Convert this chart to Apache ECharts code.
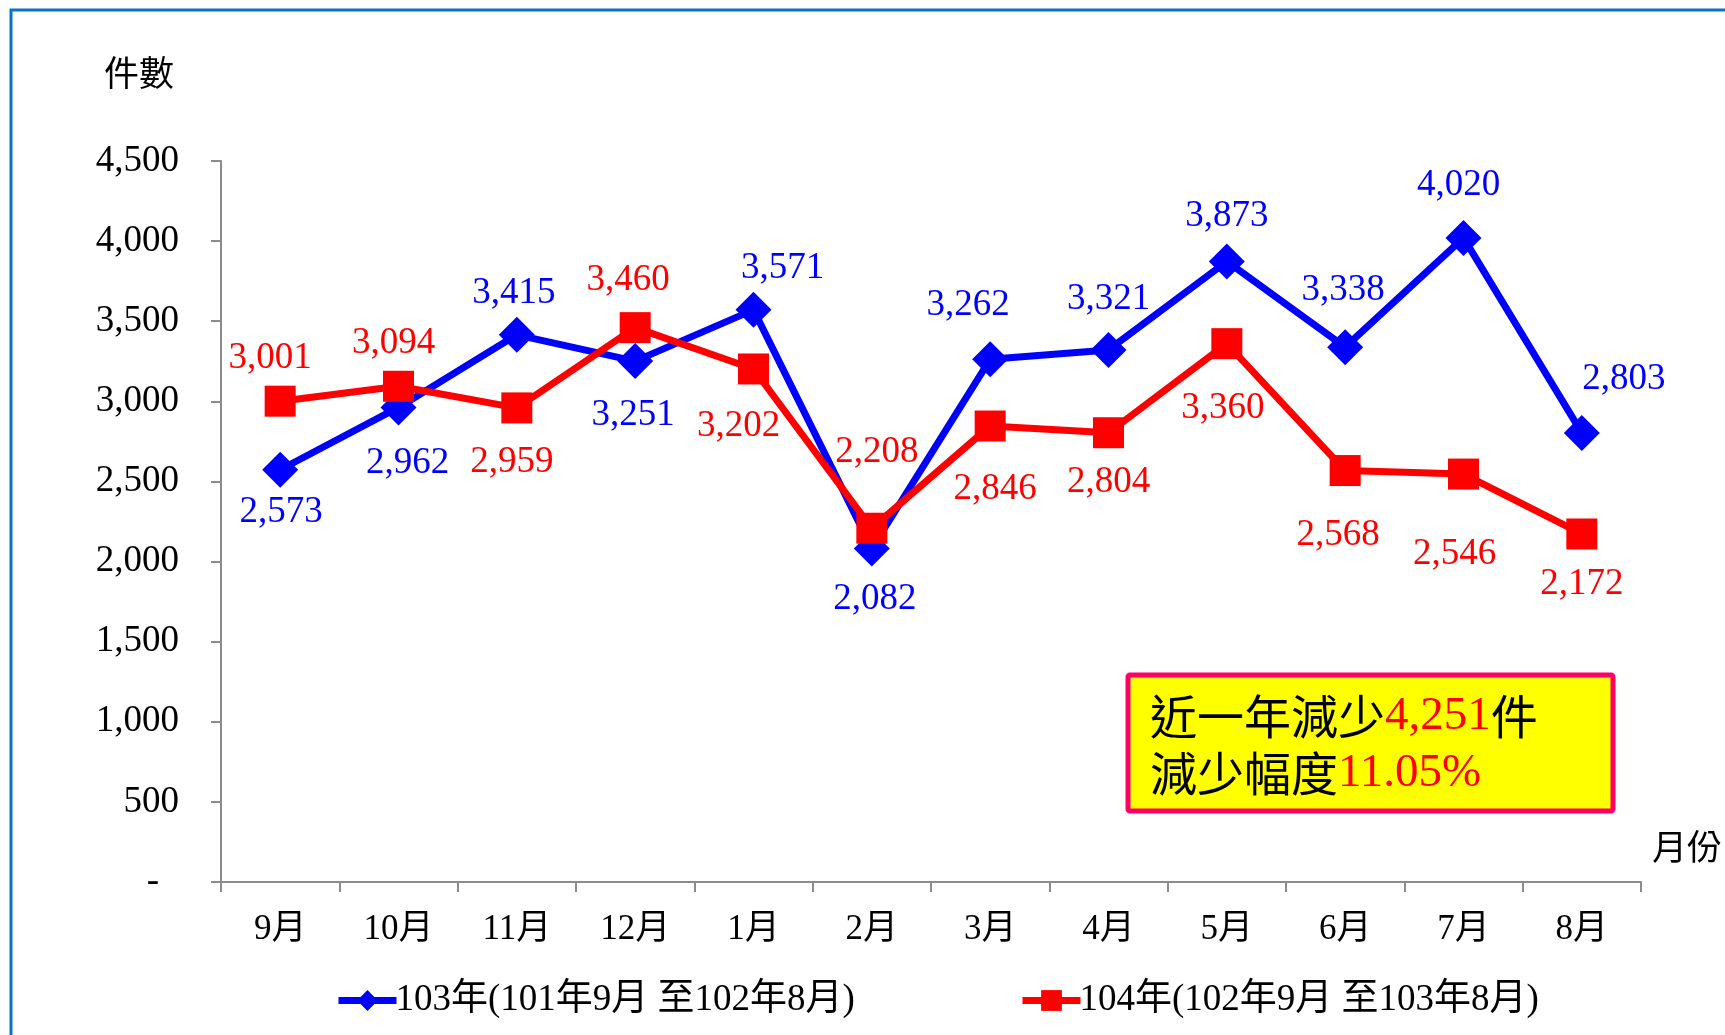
<!DOCTYPE html>
<html>
<head>
<meta charset="utf-8">
<script src="https://cdn.jsdelivr.net/npm/echarts@6/dist/echarts.min.js"></script>
<style>
  html, body { margin: 0; padding: 0; background: #fff; }
  #chart { width: 1725px; height: 1035px; }
</style>
</head>
<body>
<div id="chart"></div>
<script>
const months = ['9月', '10月', '11月', '12月', '1月', '2月', '3月', '4月', '5月', '6月', '7月', '8月']
const series103 = [2573, 2962, 3415, 3251, 3571, 2082, 3262, 3321, 3873, 3338, 4020, 2803]
const series104 = [3001, 3094, 2959, 3460, 3202, 2208, 2846, 2804, 3360, 2568, 2546, 2172]
const name103 = '103年(101年9月 至102年8月)'
const name104 = '104年(102年9月 至103年8月)'
const yTicks = [0, 500, 1000, 1500, 2000, 2500, 3000, 3500, 4000, 4500]

// where each value label sits relative to its point (px)
const offsets103 = [[1, 43], [9, 56], [-3, -42], [-2, 54], [29, -42], [3, 51], [-22, -54], [0, -51], [0, -45], [-2, -57], [-5, -53], [42, -54]]
const offsets104 = [[-10, -43], [-5, -43], [-5, 54], [-7, -47], [-15, 57], [5, -76], [5, 63], [0, 50], [-4, 65], [-7, 65], [-9, 80], [0, 50]]

const serif = "'Liberation Serif', 'Noto Sans CJK TC', serif"

function fmt(v) {
  return v === 0 ? '-' : v.toLocaleString('en-US')
}

function withLabels(values, offsets) {
  return values.map((v, i) => ({ value: v, label: { offset: offsets[i] } }))
}

function lineSeries(name, values, offsets, color, symbol, size) {
  return {
    name,
    type: 'line',
    data: withLabels(values, offsets),
    symbol,
    symbolSize: size,
    lineStyle: { color, width: 7 },
    itemStyle: { color },
    label: {
      show: true,
      position: 'inside',
      formatter: p => fmt(p.value),
      color,
      fontFamily: serif,
      fontSize: 37,
    },
    animation: false,
  }
}

const legendBase = {
  top: 977,
  itemWidth: 58,
  itemHeight: 26,
  lineStyle: { width: 7 },
  textStyle: { color: '#000', fontFamily: serif, fontSize: 37, padding: [0, 0, 0, -6] },
}

const chart = echarts.init(document.getElementById('chart'))
chart.setOption({
  animation: false,
  grid: { left: 221, right: 84, top: 161, bottom: 153 },
  xAxis: {
    type: 'category',
    data: months,
    boundaryGap: true,
    axisLine: { lineStyle: { color: '#8c8c8c', width: 2 } },
    axisTick: { show: true, length: 10, lineStyle: { color: '#8c8c8c', width: 2 } },
    axisLabel: { color: '#000', fontFamily: serif, fontSize: 35, margin: 30 },
  },
  yAxis: {
    type: 'value',
    min: yTicks[0],
    max: yTicks[yTicks.length - 1],
    interval: 500,
    axisLine: { show: true, lineStyle: { color: '#8c8c8c', width: 2 } },
    axisTick: { show: true, length: 10, lineStyle: { color: '#8c8c8c', width: 2 } },
    splitLine: { show: false },
    axisLabel: {
      color: '#000',
      fontFamily: serif,
      fontSize: 37,
      margin: 42,
      formatter: v => (v === 0 ? '{d|-}' : fmt(v)),
      rich: { d: { fontFamily: serif, fontSize: 37, color: '#000', padding: [0, 20, 0, 0] } },
    },
  },
  legend: [
    Object.assign({ data: [name103], left: 330 }, legendBase),
    Object.assign({ data: [name104], left: 1014 }, legendBase),
  ],
  series: [
    lineSeries(name103, series103, offsets103, '#0000ff', 'diamond', 36),
    lineSeries(name104, series104, offsets104, '#ff0000', 'rect', 31),
  ],
  graphic: [
    {
      type: 'rect',
      shape: { x: 11, y: 10, width: 1800, height: 1100 },
      style: { fill: 'none', stroke: '#0a72c6', lineWidth: 3 },
      silent: true,
    },
    {
      type: 'text',
      left: 104,
      top: 55,
      style: { text: '件數', font: "35px 'Noto Sans CJK TC'", fill: '#000' },
    },
    {
      type: 'text',
      left: 1652,
      top: 829,
      style: { text: '月份', font: "35px 'Noto Sans CJK TC'", fill: '#000' },
    },
    {
      type: 'rect',
      shape: { x: 1128, y: 675, width: 485, height: 136, r: 2 },
      style: { fill: '#ffff00', stroke: '#ff0066', lineWidth: 5 },
    },
    {
      type: 'text',
      x: 1150,
      y: 688,
      style: {
        text: '{k|近一年減少}{r|4,251}{k|件}\n{k|減少幅度}{r|11.05%}',
        rich: {
          k: { font: "47px 'Noto Sans CJK TC'", fill: '#000', lineHeight: 57 },
          r: { font: "47px 'Liberation Serif'", fill: '#ff0000', lineHeight: 57 },
        },
      },
    },
  ],
})
</script>
</body>
</html>
